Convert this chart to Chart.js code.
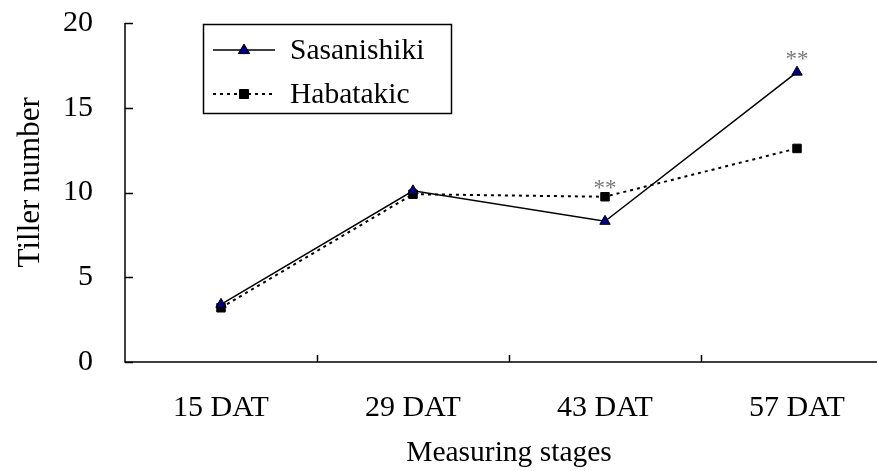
<!DOCTYPE html>
<html>
<head>
<meta charset="utf-8">
<script src="https://cdn.jsdelivr.net/npm/chart.js@4/dist/chart.umd.min.js"></script>
<style>
  html, body { margin: 0; padding: 0; overflow: hidden; background: #fff; }
  #wrap { width: 900px; height: 471px; }
</style>
</head>
<body>
<div id="wrap"><canvas id="c" width="900" height="471"></canvas></div>
<script>
// Tiller counts of two rice cultivars at four measuring stages
const stages = ['15 DAT', '29 DAT', '43 DAT', '57 DAT'];
const sasanishiki = [3.4, 10.1, 8.3, 17.1];
const habatakic = [3.2, 9.9, 9.75, 12.6];
const yTicks = [0, 5, 10, 15, 20];
const yTitle = 'Tiller number';
// significance marks per stage and the series they sit above
const sigLabels = ['', '', '**', '**'];
const sigSeries = ['', '', 'Habatakic', 'Sasanishiki'];

const FONT = '"Liberation Serif", "Times New Roman", serif';

// inward ticks, y title, significance marks and a framed legend
const framePlugin = {
  id: 'frame',
  afterDraw(chart) {
    const ctx = chart.ctx;
    const x = chart.scales.x, y = chart.scales.y;
    const area = chart.chartArea;
    ctx.save();
    ctx.strokeStyle = '#000';
    ctx.lineWidth = 1.5;
    // axis lines
    ctx.beginPath();
    ctx.moveTo(area.left, area.top);
    ctx.lineTo(area.left, area.bottom);
    ctx.lineTo(area.right, area.bottom);
    ctx.stroke();
    // y ticks
    ctx.beginPath();
    y.ticks.forEach((t) => {
      const py = Math.round(y.getPixelForValue(t.value)) + 0.5;
      ctx.moveTo(area.left, py);
      ctx.lineTo(area.left + 8, py);
    });
    // category boundary ticks
    for (let i = 0; i < stages.length; i++) {
      const a = x.getPixelForValue(i);
      const b = x.getPixelForValue(i + 1);
      const px = Math.round((a + b) / 2) + 0.5;
      ctx.moveTo(px, area.bottom);
      ctx.lineTo(px, area.bottom - 7);
    }
    ctx.stroke();

    // y axis title
    ctx.save();
    ctx.translate(31, y.getPixelForValue(10.6));
    ctx.rotate(-Math.PI / 2);
    ctx.fillStyle = '#000';
    ctx.font = '31px ' + FONT;
    ctx.textAlign = 'center';
    ctx.textBaseline = 'middle';
    ctx.fillText(yTitle, 0, 0);
    ctx.restore();

    // significance marks
    ctx.fillStyle = '#7a7a7a';
    ctx.font = '23px ' + FONT;
    ctx.textAlign = 'center';
    ctx.textBaseline = 'alphabetic';
    sigLabels.forEach((lab, i) => {
      if (!lab) return;
      const dsIndex = chart.data.datasets.findIndex(d => d.label === sigSeries[i]);
      const pt = chart.getDatasetMeta(dsIndex).data[i];
      const lift = dsIndex === 0 ? 6 : 2;
      ctx.fillText(lab, pt.x, pt.y - lift);
    });

    // legend
    const bx = 203, by = 24, bw = 248, bh = 89;
    ctx.lineWidth = 1.5;
    ctx.strokeStyle = '#000';
    ctx.strokeRect(bx + 0.5, by + 0.5, bw, bh);
    const rows = [50, 94];
    chart.data.datasets.forEach((ds, i) => {
      const ry = rows[i];
      ctx.save();
      ctx.strokeStyle = ds.borderColor;
      ctx.lineWidth = ds.borderWidth;
      ctx.setLineDash(ds.borderDash || []);
      ctx.beginPath();
      ctx.moveTo(213, ry);
      ctx.lineTo(275, ry);
      ctx.stroke();
      ctx.restore();
      ctx.save();
      ctx.fillStyle = ds.pointBackgroundColor;
      ctx.strokeStyle = ds.pointBorderColor;
      ctx.lineWidth = ds.pointBorderWidth;
      ctx.beginPath();
      if (ds.pointStyle === 'triangle') {
        const r = ds.pointRadius;
        ctx.moveTo(244, ry - r);
        ctx.lineTo(244 + r * 0.95, ry + r * 0.6);
        ctx.lineTo(244 - r * 0.95, ry + r * 0.6);
      } else {
        const r = ds.pointRadius * 0.75;
        ctx.rect(244 - r, ry - r, 2 * r, 2 * r);
      }
      ctx.closePath();
      ctx.fill();
      ctx.stroke();
      ctx.restore();
      ctx.fillStyle = '#000';
      ctx.font = '29.5px ' + FONT;
      ctx.textAlign = 'left';
      ctx.textBaseline = 'middle';
      ctx.fillText(ds.label, 290, ry + 1);
    });
    ctx.restore();
  }
};

new Chart(document.getElementById('c'), {
  type: 'line',
  data: {
    labels: stages,
    datasets: [
      {
        label: 'Sasanishiki',
        data: sasanishiki,
        borderColor: '#000',
        borderWidth: 1.5,
        pointStyle: 'triangle',
        pointRadius: 6,
        pointBackgroundColor: '#000080',
        pointBorderColor: '#000',
        pointBorderWidth: 1,
        tension: 0
      },
      {
        label: 'Habatakic',
        data: habatakic,
        borderColor: '#000',
        borderWidth: 2,
        borderDash: [3, 4],
        pointStyle: 'rect',
        pointRadius: 6,
        pointBackgroundColor: '#000',
        pointBorderColor: '#000',
        pointBorderWidth: 1,
        tension: 0
      }
    ]
  },
  options: {
    responsive: false,
    animation: false,
    events: [],
    layout: { padding: { top: 23, right: 7, left: 0, bottom: 0 } },
    plugins: { legend: { display: false }, tooltip: { enabled: false } },
    scales: {
      x: {
        offset: true,
        grid: { display: false, drawTicks: false },
        border: { display: false },
        ticks: {
          color: '#000',
          padding: 28,
          font: { family: FONT, size: 30 },
          maxRotation: 0
        },
        title: {
          display: true,
          text: 'Measuring stages',
          color: '#000',
          font: { family: FONT, size: 29.5 },
          padding: { top: 7, bottom: 0 }
        },
        afterFit(scale) {
          scale.height = 109;
          scale.paddingLeft = 0;
          scale.paddingRight = 0;
        }
      },
      y: {
        min: 0,
        max: 20,
        afterBuildTicks(scale) { scale.ticks = yTicks.map(v => ({ value: v })); },
        grid: { display: false, drawTicks: false },
        border: { display: false },
        ticks: {
          color: '#000',
          padding: 32,
          font: { family: FONT, size: 30 }
        },
        afterFit(scale) {
          scale.width = 125;
          scale.paddingTop = 0;
          scale.paddingBottom = 0;
        }
      }
    }
  },
  plugins: [framePlugin]
});
</script>
</body>
</html>
